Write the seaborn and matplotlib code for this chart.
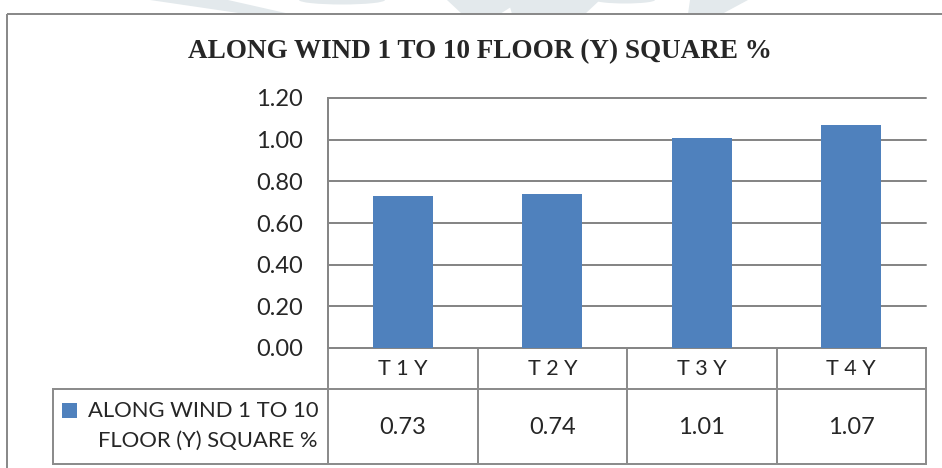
import matplotlib
matplotlib.use("Agg")
import matplotlib.pyplot as plt
import seaborn as sns
import pandas as pd
from matplotlib.patches import Polygon, Rectangle, Ellipse

# --- data -------------------------------------------------------------
categories = ["T 1 Y", "T 2 Y", "T 3 Y", "T 4 Y"]
values = [0.73, 0.74, 1.01, 1.07]
value_labels = ["0.73", "0.74", "1.01", "1.07"]
series_name = "ALONG WIND 1 TO 10 FLOOR (Y) SQUARE %"
legend_lines = ["ALONG WIND 1 TO 10", "FLOOR (Y) SQUARE %"]
y_ticks = [0.0, 0.2, 0.4, 0.6, 0.8, 1.0, 1.2]
chart_title = "ALONG WIND 1 TO 10 FLOOR (Y) SQUARE %"

W, H = 942, 468
BAR = "#4F81BD"
GRID = "#868686"
EDGE = "#8c8c8c"

sns.set_theme(style="white")
plt.rcParams["font.family"] = ["Lato", "DejaVu Sans"]

fig = plt.figure(figsize=(W / 100, H / 100), dpi=100)
fig.patch.set_facecolor("white")


def pt(px):
    return px * 0.72


# pixel-coordinate canvas for frame, watermark and data table
bg = fig.add_axes([0, 0, 1, 1], zorder=0)
bg.set_xlim(0, W)
bg.set_ylim(H, 0)
bg.axis("off")

# faint watermark shapes along the top edge
wm = "#e3e9ec"
for poly in [
    [(150, 0), (228, 0), (290, 14), (245, 14)],
    [(447, 0), (522, 0), (500, 14), (462, 14)],
    [(508, 0), (600, 0), (585, 14), (512, 14)],
    [(690, 0), (748, 0), (722, 14), (688, 14)],
]:
    bg.add_patch(Polygon(poly, closed=True, color=wm, lw=0))
bg.add_patch(Ellipse((342, 0), 86, 9, color=wm, lw=0))
bg.add_patch(Ellipse((625, 0), 60, 7, color=wm, lw=0))

# chart frame
bg.add_patch(Rectangle((7, 14), W + 20, H + 20, fill=False,
                       edgecolor="#8a8a8a", lw=pt(2), zorder=2))

# title
bg.text(480, 52, chart_title, ha="center", va="center",
        family="Liberation Serif", fontweight="bold", fontsize=19.5)

# --- bar plot -----------------------------------------------------------
L, R, T, B = 328, 926, 98, 348
ax = fig.add_axes([L / W, 1 - B / H, (R - L) / W, (B - T) / H], zorder=1)
ax.patch.set_alpha(0)
df = pd.DataFrame({"category": categories, "value": values})
sns.barplot(data=df, x="category", y="value", color=BAR, width=0.4,
            saturation=1, linewidth=0, ax=ax, zorder=3)
ax.set_xlim(-0.5, len(categories) - 0.5)
ax.set_ylim(0, 1.2)
ax.set_yticks(y_ticks)
ax.set_yticklabels([f"{v:.2f}" for v in y_ticks], fontsize=17)
ax.set_xticks([])
ax.set_xlabel("")
ax.set_ylabel("")
ax.tick_params(axis="y", length=0, pad=pt(25))
for gy in y_ticks:
    ax.axhline(gy, color=GRID, lw=pt(2), zorder=1, clip_on=False)
for s in ["top", "right", "bottom"]:
    ax.spines[s].set_visible(False)
ax.spines["left"].set_color(GRID)
ax.spines["left"].set_linewidth(pt(2))

# --- data table ---------------------------------------------------------
fig.canvas.draw()
to_px = ax.transData.transform
bounds = [to_px((i - 0.5, 0))[0] for i in range(len(categories) + 1)]
centers = [to_px((i, 0))[0] for i in range(len(categories))]
row1_bot, row2_bot, leg_left = 389, 464, 53

tl = dict(color=EDGE, lw=pt(2), zorder=2, solid_capstyle="projecting")
bg.plot([bounds[0], bounds[-1]], [B, B], **tl)
bg.plot([leg_left, bounds[-1]], [row1_bot, row1_bot], **tl)
bg.plot([leg_left, bounds[-1]], [row2_bot, row2_bot], **tl)
bg.plot([leg_left, leg_left], [row1_bot, row2_bot], **tl)
for bx in bounds:
    bg.plot([bx, bx], [B, row2_bot], **tl)

for cx, cat, lab in zip(centers, categories, value_labels):
    bg.text(cx, 369, cat, ha="center", va="center", fontsize=15.5)
    bg.text(cx, 427, lab, ha="center", va="center", fontsize=17)

bg.add_patch(Rectangle((62, 403), 15, 15, color=BAR, lw=0, zorder=3))
bg.text(318, 411, legend_lines[0], ha="right", va="center", fontsize=15.8)
bg.text(318, 441, legend_lines[1], ha="right", va="center", fontsize=15.8)

fig.savefig("out.png", dpi=100, facecolor="white")
